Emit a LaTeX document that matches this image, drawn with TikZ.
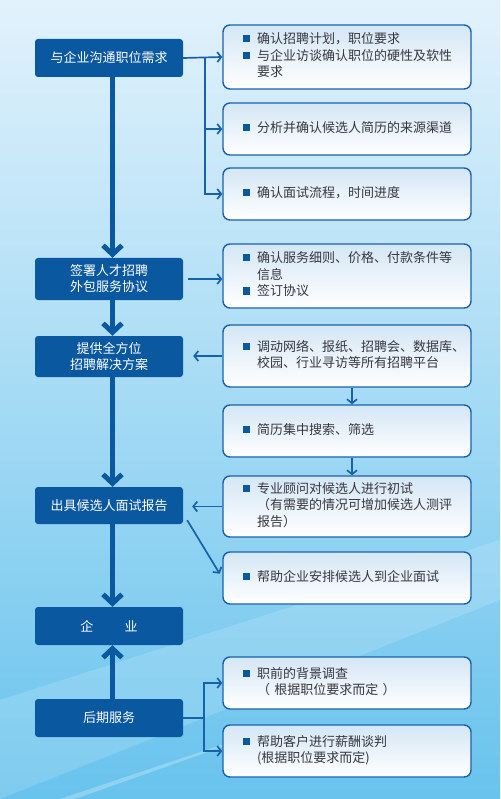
\documentclass[tikz,border=0pt]{standalone}
\usepackage{fontspec}
\newfontfamily\cjk{Noto Sans CJK SC}
\usetikzlibrary{arrows.meta,positioning}
\definecolor{mainblue}{RGB}{10,88,160}
\definecolor{edgeblue}{RGB}{24,98,172}
\definecolor{boxtop}{RGB}{212,230,245}
\definecolor{bgtop}{RGB}{226,242,252}
\definecolor{bgmid}{RGB}{200,230,247}
\definecolor{bgbot}{RGB}{104,195,237}
\definecolor{txtgray}{RGB}{55,55,62}
\newcommand{\bul}{\textcolor{mainblue}{\rule[1.3pt]{7pt}{7pt}}}

\begin{document}
\begin{tikzpicture}[x=1pt,y=-1pt,
	mainbox/.style={rectangle, rounded corners=3pt, fill=mainblue, text=white,
		minimum width=148pt, align=center, inner sep=0pt,
		font=\cjk\fontsize{13}{16}\selectfont},
	infobox/.style={rectangle, rounded corners=7pt, draw=edgeblue, line width=1.4pt,
		top color=boxtop, bottom color=white, text width=208pt, inner xsep=20pt,
		text=txtgray, font=\cjk\fontsize{13}{16.5}\selectfont},
	mainflow/.style={line width=5pt, draw=mainblue, -{Straight Barb[length=9pt,width=19pt]}},
	link/.style={line width=1.7pt, draw=edgeblue, -{Straight Barb[length=4pt,width=10pt]}}]
	
	% Background
	\shade[top color=bgtop, middle color=bgmid, bottom color=bgbot] (0,0) rectangle (500,799);
	\fill[white, opacity=0.15] (0,700) -- (500,540) -- (500,600) -- (0,799) -- cycle;
	\fill[white, opacity=0.25] (60,799) -- (230,742) -- (236,742) -- (75,799) -- cycle;
	\useasboundingbox (0,0) rectangle (500,799);
	
	% Main steps
	\node[mainbox, minimum height=38pt] (comm) at (109,58) {与企业沟通职位需求};
	\node[mainbox, minimum height=42pt] (sign) at (109,279) {签署人才招聘\\外包服务协议};
	\node[mainbox, minimum height=41pt] (plan) at (109,356.5) {提供全方位\\招聘解决方案};
	\node[mainbox, minimum height=37pt] (report) at (109,505.5) {出具候选人面试报告};
	\node[mainbox, minimum height=38pt] (firm) at (109,626) {企\hspace{2.4em}业};
	\node[mainbox, minimum height=38pt] (after) at (109,718) {后期服务};
	
	% Details
	\node[infobox, minimum height=64pt] (need) at (347,57) {%
		\begin{tabular}{@{}l@{\hspace{7pt}}l@{}}
			\bul & 确认招聘计划，职位要求\\
			\bul & 与企业访谈确认职位的硬性及软性\\
			& 要求
	\end{tabular}};
	\node[infobox, minimum height=52pt] (source) at (347,129) {%
		\begin{tabular}{@{}l@{\hspace{7pt}}l@{}}
			\bul & 分析并确认候选人简历的来源渠道
	\end{tabular}};
	\node[infobox, minimum height=52pt] (process) at (347,194) {%
		\begin{tabular}{@{}l@{\hspace{7pt}}l@{}}
			\bul & 确认面试流程，时间进度
	\end{tabular}};
	\node[infobox, minimum height=64pt] (terms) at (347,276) {%
		\begin{tabular}{@{}l@{\hspace{7pt}}l@{}}
			\bul & 确认服务细则、价格、付款条件等\\
			& 信息\\
			\bul & 签订协议
	\end{tabular}};
	\node[infobox, minimum height=62pt] (channel) at (347,356) {%
		\begin{tabular}{@{}l@{\hspace{7pt}}l@{}}
			\bul & 调动网络、报纸、招聘会、数据库、\\
			& 校园、行业寻访等所有招聘平台
	\end{tabular}};
	\node[infobox, minimum height=52pt] (screen) at (347,431) {%
		\begin{tabular}{@{}l@{\hspace{7pt}}l@{}}
			\bul & 简历集中搜索、筛选
	\end{tabular}};
	\node[infobox, minimum height=61pt] (interview) at (347,506.5) {%
		\begin{tabular}{@{}l@{\hspace{7pt}}l@{}}
			\bul & 专业顾问对候选人进行初试\\
			& （有需要的情况可增加候选人测评\\
			& 报告）
	\end{tabular}};
	\node[infobox, minimum height=52pt] (arrange) at (347,578) {%
		\begin{tabular}{@{}l@{\hspace{7pt}}l@{}}
			\bul & 帮助企业安排候选人到企业面试
	\end{tabular}};
	\node[infobox, minimum height=52pt] (check) at (347,683) {%
		\begin{tabular}{@{}l@{\hspace{7pt}}l@{}}
			\bul & 职前的背景调查\\
			& （ 根据职位要求而定 ）
	\end{tabular}};
	\node[infobox, minimum height=52pt] (salary) at (347,751) {%
		\begin{tabular}{@{}l@{\hspace{7pt}}l@{}}
			\bul & 帮助客户进行薪酬谈判\\
			& (根据职位要求而定)
	\end{tabular}};
	
	% Main flow
	\draw[mainflow] ([xshift=3.5pt]comm.south) -- ([xshift=3.5pt]sign.north);
	\draw[mainflow] ([xshift=3.5pt]sign.south) -- ([xshift=3.5pt]plan.north);
	\draw[mainflow] ([xshift=3.5pt]plan.south) -- ([xshift=3.5pt]report.north);
	\draw[mainflow] ([xshift=3.5pt]report.south) -- ([xshift=3.5pt]firm.north);
	\draw[mainflow] ([xshift=3.5pt]after.north) -- ([xshift=3.5pt]firm.south);
	
	% Links to the details
	\coordinate (fork1) at (205,58);
	\draw[link] (comm.east) -- (need.west);
	\draw[link] (fork1) |- (source.west);
	\draw[link] (fork1) |- (process.west);
	\draw[link, shorten <=5pt] (sign.east) -- (sign.east -| terms.west);
	\draw[link, shorten >=10pt] (channel.west) -- (channel.west -| plan.east);
	\draw[link] ([xshift=5pt]channel.south) -- ([xshift=5pt]screen.north);
	\draw[link] ([xshift=5pt]screen.south) -- ([xshift=5pt]interview.north);
	\draw[link, shorten >=9pt] (interview.west) -- (interview.west -| report.east);
	\draw[link, shorten >=5pt] ([xshift=4pt,yshift=4pt]report.south east) -- (arrange.west);
	\coordinate (fork2) at (204,718);
	\draw[line width=1.7pt, edgeblue] (after.east) -- (fork2);
	\draw[link] (fork2) |- (check.west);
	\draw[link] (fork2) |- (salary.west);
\end{tikzpicture}
\end{document}
